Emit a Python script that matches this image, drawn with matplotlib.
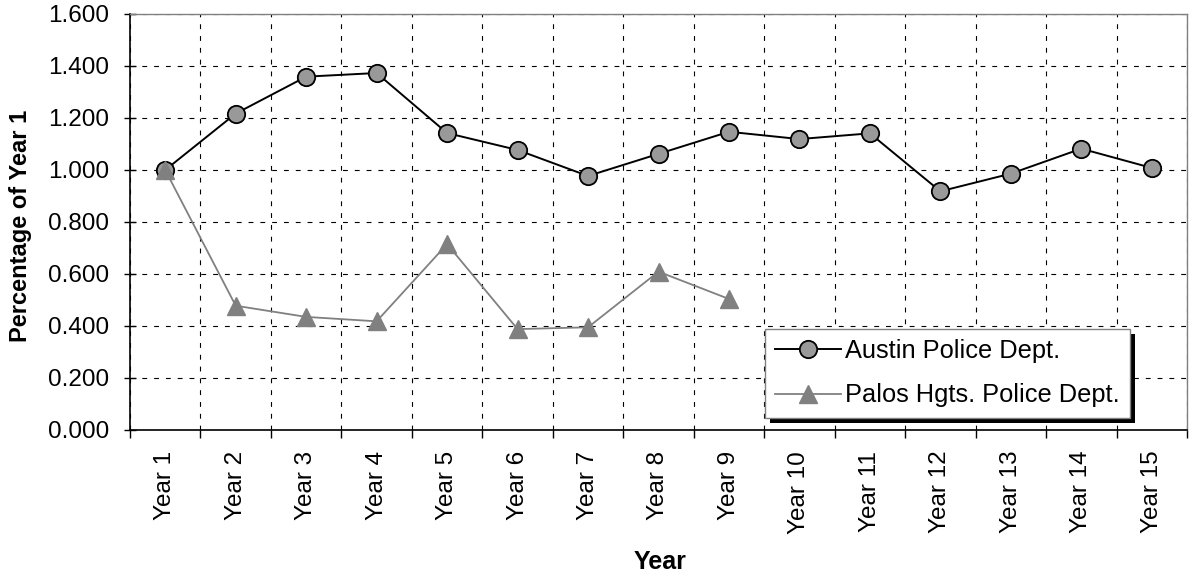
import matplotlib.pyplot as plt
from matplotlib.patches import Rectangle
from matplotlib.ticker import FormatStrFormatter

plt.rcParams['font.family'] = ['Liberation Sans', 'DejaVu Sans']
plt.rcParams['lines.scale_dashes'] = False

years = ['Year %d' % i for i in range(1, 16)]
austin = [1.000, 1.217, 1.359, 1.373, 1.142, 1.077, 0.977, 1.062, 1.147,
          1.119, 1.141, 0.918, 0.986, 1.082, 1.008]
palos = [1.000, 0.478, 0.435, 0.418, 0.715, 0.388, 0.395, 0.609, 0.504]

fig = plt.figure(figsize=(11.91, 5.77), dpi=100)
ax = fig.add_axes([130 / 1191, 1 - 430 / 577, 1057 / 1191, 416 / 577])

x = list(range(len(years)))
ax.plot(x, austin, color='black', lw=1.4, marker='o', ms=12.5,
        mfc='#999999', mec='black', mew=1.3, label='Austin Police Dept.', zorder=3)
ax.plot(x[:len(palos)], palos, color='#808080', lw=1.3, marker='^', ms=12.5,
        mfc='#808080', mec='#808080', label='Palos Hgts. Police Dept.', zorder=3)

ax.set_xlim(-0.5, len(years) - 0.5)
ax.set_ylim(0, 1.6)
ax.set_yticks([i * 0.2 for i in range(9)])
ax.yaxis.set_major_formatter(FormatStrFormatter('%.3f'))
ax.set_xticks([i - 0.5 for i in range(len(years) + 1)])
ax.set_xticklabels([])
ax.set_xticks(x, minor=True)
ax.set_xticklabels(years, minor=True, rotation=90)
ax.tick_params(axis='x', which='minor', length=0, pad=15, labelsize=17.5)
ax.tick_params(axis='x', which='major', direction='out', length=6, width=1)
ax.tick_params(axis='y', direction='inout', length=8, width=1, labelsize=17.5, pad=11)

ax.grid(True, which='major', color='black', lw=0.8, linestyle=(0, (3.5, 5)))
ax.set_axisbelow(True)

for s in ['left', 'bottom']:
    ax.spines[s].set_color('black')
    ax.spines[s].set_linewidth(1.2)
for s in ['top', 'right']:
    ax.spines[s].set_color('#808080')
    ax.spines[s].set_linewidth(1.0)

ax.set_ylabel('Percentage of Year 1', fontsize=17, fontweight='bold')
ax.yaxis.set_label_coords((32 - 130) / 1057, 0.49)
fig.text(660 / 1191, 1 - 562 / 577, 'Year', fontsize=18, fontweight='bold',
         ha='center', va='center')

leg = ax.legend(loc='upper left', bbox_to_anchor=(765 / 1191, 1 - 329 / 577),
                bbox_transform=fig.transFigure, borderaxespad=0, fontsize=18.3,
                handlelength=2.6, handletextpad=0.15, fancybox=False,
                edgecolor='#808080', framealpha=1, borderpad=0.4, labelspacing=0.8)
leg.get_frame().set_linewidth(1.0)
leg.set_zorder(6)

fig.canvas.draw()
bb = leg.get_window_extent().transformed(fig.transFigure.inverted())
sh = Rectangle((bb.x0 + 5 / 1191, bb.y0 - 5 / 577), bb.width, bb.height,
               transform=fig.transFigure, facecolor='black', edgecolor='none',
               zorder=5.5, clip_on=False)
ax.add_patch(sh)

fig.savefig('out.png', dpi=100)
